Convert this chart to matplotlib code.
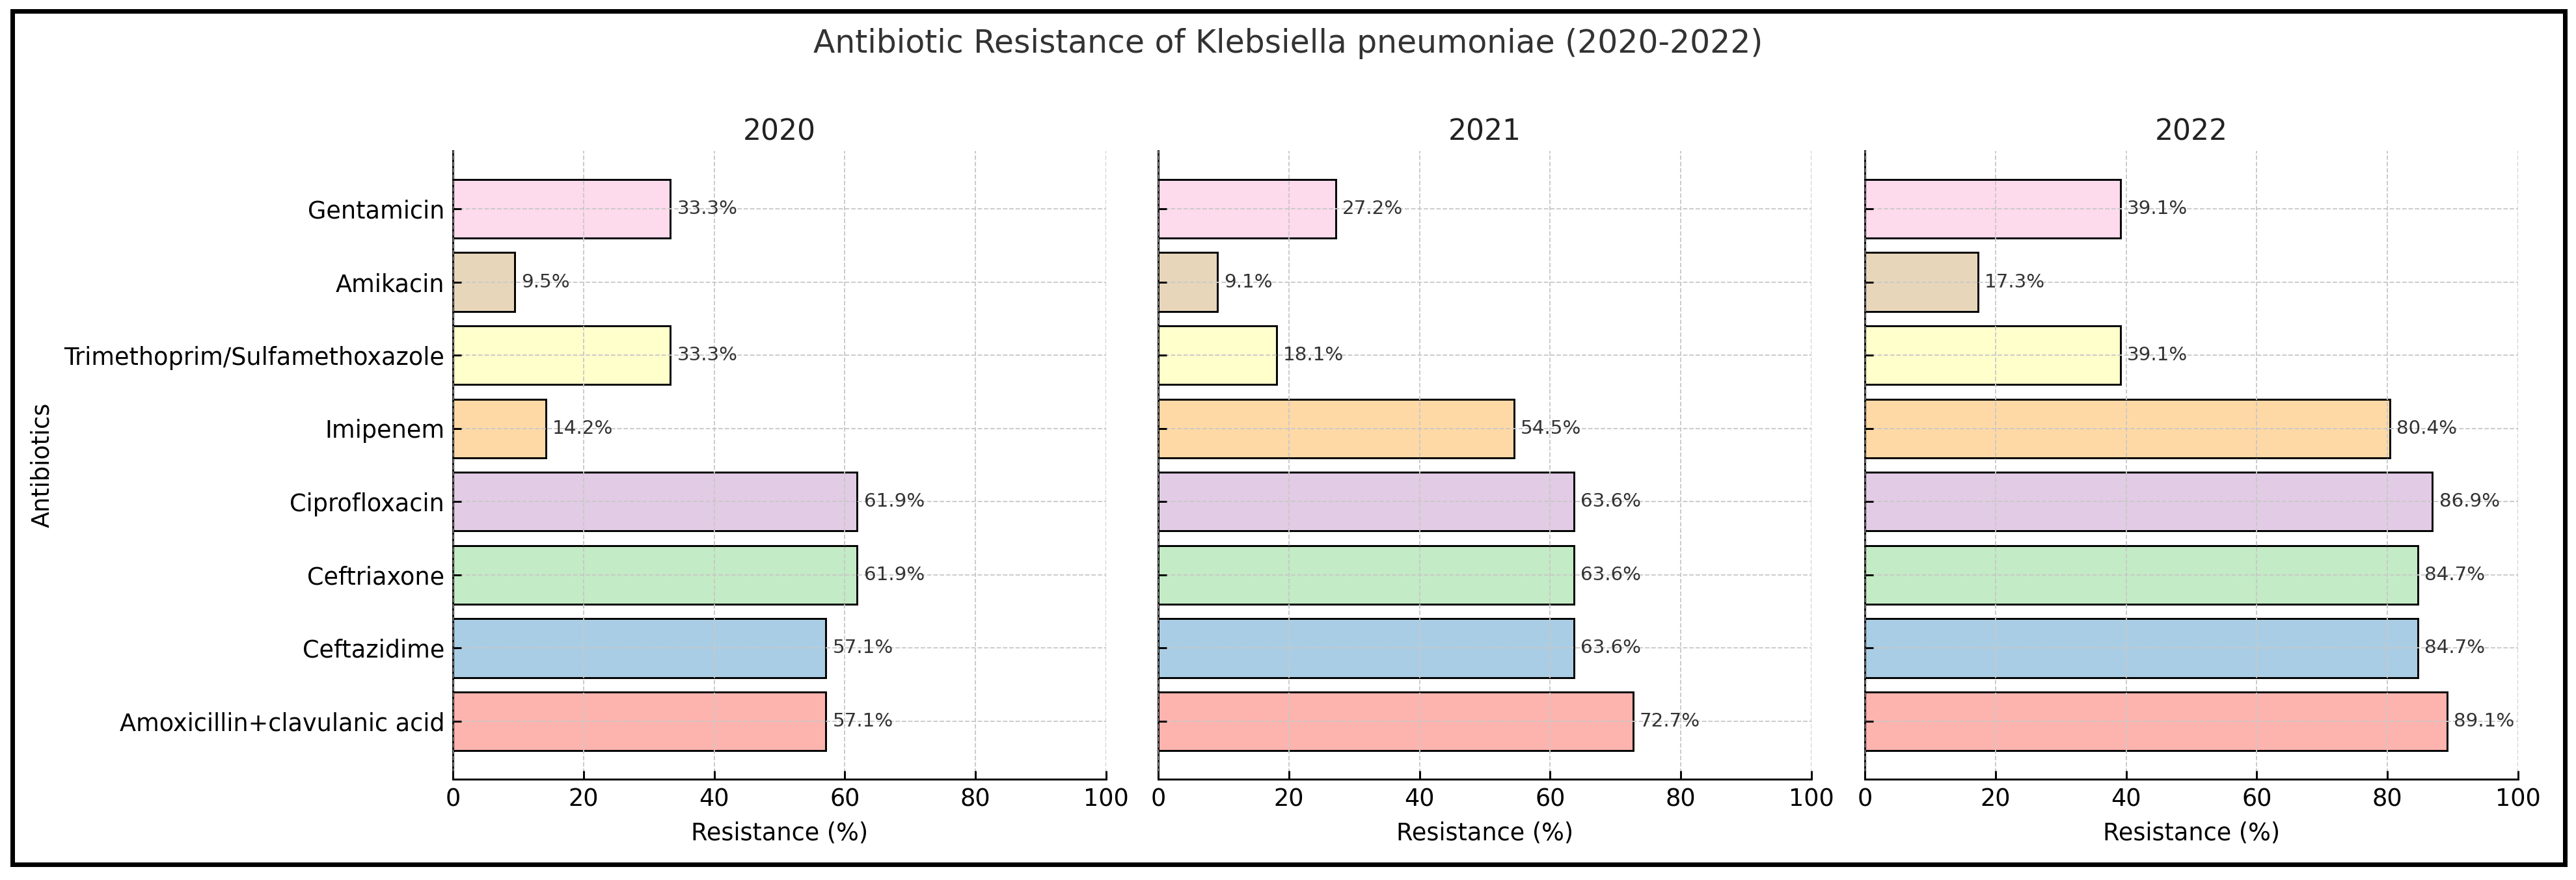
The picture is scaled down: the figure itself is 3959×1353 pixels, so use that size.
import matplotlib
matplotlib.use("Agg")
import matplotlib.pyplot as plt
from matplotlib.patches import Rectangle

# Данні: антибіотики знизу вгору
antibiotics = [
    "Amoxicillin+clavulanic acid",
    "Ceftazidime",
    "Ceftriaxone",
    "Ciprofloxacin",
    "Imipenem",
    "Trimethoprim/Sulfamethoxazole",
    "Amikacin",
    "Gentamicin",
]
years = ["2020", "2021", "2022"]
res_2020 = [57.1, 57.1, 61.9, 61.9, 14.2, 33.3, 9.5, 33.3]
res_2021 = [72.7, 63.6, 63.6, 63.6, 54.5, 18.1, 9.1, 27.2]
res_2022 = [89.1, 84.7, 84.7, 86.9, 80.4, 39.1, 17.3, 39.1]
colors = ["#fdb4ae", "#a9cde4", "#c3ebc5", "#e2cbe5",
          "#fed9a6", "#ffffcc", "#e8d6bb", "#fddaec"]

DPI = 264
W, H = 3959, 1353
fig = plt.figure(figsize=(W / DPI, H / DPI), dpi=DPI)

ax_w = 1004 / W
bottom = 1 - 1198 / H
ax_h = (1198 - 232) / H
lefts = [696 / W, 1780 / W, 2866 / W]

axes = []
for i, (year, vals) in enumerate(zip(years, [res_2020, res_2021, res_2022])):
    ax = fig.add_axes([lefts[i], bottom, ax_w, ax_h])
    axes.append(ax)
    ax.barh(antibiotics, vals, color=colors, edgecolor="black", linewidth=0.8)
    for j, v in enumerate(vals):
        ax.text(v + 1, j, f"{v}%", va="center", ha="left", fontsize=8, color="#333333")
    ax.set_xlim(0, 100)
    ax.set_title(year, fontsize=12, pad=4.6, color="#222222")
    ax.set_xlabel("Resistance (%)", fontsize=10)
    ax.grid(True, linestyle="--", linewidth=0.5, color="#c8c8c8")
    ax.set_axisbelow(False)
    ax.spines["top"].set_visible(False)
    ax.spines["right"].set_visible(False)
    ax.tick_params(direction="in", labelsize=10)
    if i == 0:
        ax.set_ylabel("Antibiotics", fontsize=10)
    else:
        ax.tick_params(axis="y", labelleft=False)

fig.text(0.5, 1 - 81 / H, "Antibiotic Resistance of Klebsiella pneumoniae (2020-2022)",
         ha="center", va="baseline", fontsize=13.3, color="#333333")

# рамка навколо всього рисунка
fig.patches.append(Rectangle((18.5 / W, 1 - 1328.5 / H), (3942 - 18.5) / W, (1328.5 - 16.5) / H,
                             transform=fig.transFigure, fill=False,
                             edgecolor="black", linewidth=7 * 72 / DPI))

fig.savefig("out.png", dpi=DPI)
